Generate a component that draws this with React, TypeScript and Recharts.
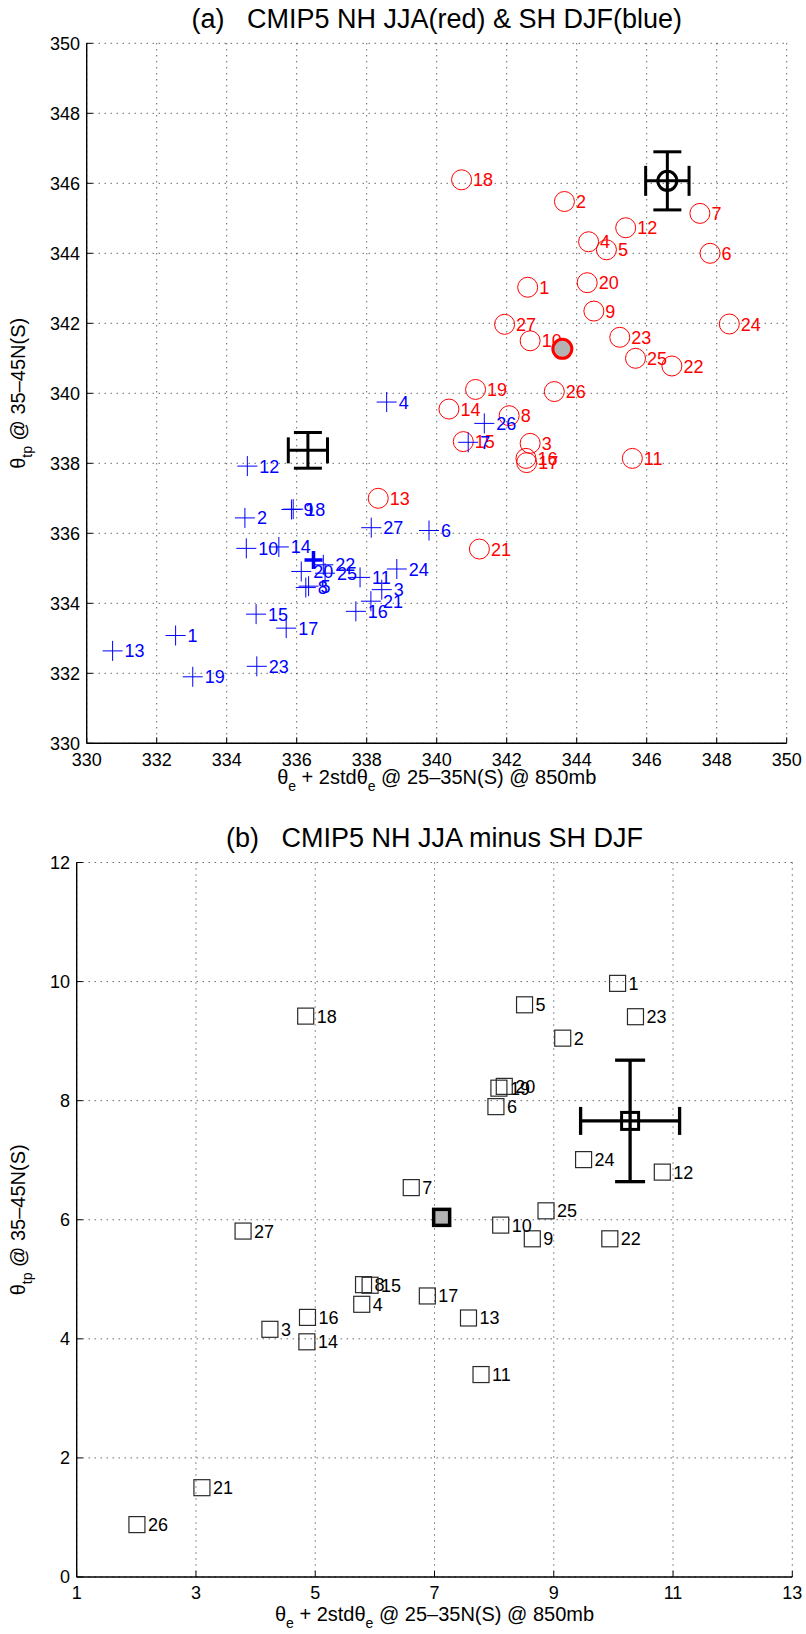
import React from 'react';
import { ScatterChart, Scatter, XAxis, YAxis, CartesianGrid, ErrorBar } from 'recharts';

const FONT = '"Liberation Sans", Arial, Helvetica, sans-serif';

// ---- data -----------------------------------------------------------
const modelIds = [1, 2, 3, 4, 5, 6, 7, 8, 9, 10, 11, 12, 13, 14, 15, 16, 17, 18, 19, 20, 21, 22, 23, 24, 25, 26, 27];

// (a) NH JJA (red circles)
const nhX = [342.6, 343.65, 342.67, 344.34, 344.85, 347.81, 347.52, 342.07, 344.49, 342.67, 345.59, 345.4, 338.33, 340.35, 340.76, 342.55, 342.57, 340.71, 341.11, 344.3, 341.22, 346.72, 345.23, 348.36, 345.68, 343.36, 341.94];
const nhY = [343.03, 345.48, 338.57, 344.33, 344.1, 344.0, 345.14, 339.36, 342.35, 341.5, 338.14, 344.73, 337.0, 339.55, 338.62, 338.14, 338.02, 346.1, 340.11, 343.16, 335.55, 340.78, 341.6, 341.98, 341.0, 340.05, 341.97];
const nhMean = [343.59, 341.27];
const nhObs = [346.59, 346.07];
const nhObsErr = [0.62, 0.83];

// (a) SH DJF (blue pluses)
const shX = [332.54, 334.52, 338.43, 338.57, 336.34, 339.78, 340.9, 336.26, 335.85, 334.56, 337.81, 334.59, 330.74, 335.49, 334.84, 337.69, 335.7, 335.9, 333.03, 336.13, 338.12, 336.76, 334.86, 338.86, 336.81, 341.36, 338.13];
const shY = [333.08, 336.44, 334.39, 339.75, 334.49, 336.08, 338.6, 334.45, 336.68, 335.57, 334.74, 337.92, 332.64, 335.61, 333.69, 333.77, 333.29, 336.69, 331.9, 334.91, 334.06, 335.1, 332.2, 334.98, 334.86, 339.14, 336.16];
const shMean = [336.48, 335.24];
const shObs = [336.32, 338.37];
const shObsErr = [0.56, 0.51];

// (b) NH JJA minus SH DJF (squares)
const dX = [10.07, 9.15, 4.24, 5.78, 8.51, 8.03, 6.61, 5.81, 8.64, 8.11, 7.78, 10.82, 7.57, 4.86, 5.92, 4.87, 6.88, 4.84, 8.08, 8.17, 3.1, 9.94, 10.37, 9.5, 8.87, 2.01, 3.79];
const dY = [9.97, 9.05, 4.16, 4.58, 9.61, 7.9, 6.54, 4.91, 5.68, 5.91, 3.4, 6.8, 4.35, 3.95, 4.9, 4.36, 4.72, 9.42, 8.21, 8.24, 1.5, 5.68, 9.41, 7.01, 6.15, 0.88, 5.81];
const dMean = [7.12, 6.04];
const dObs = [10.28, 7.66];
const dObsErr = [0.83, 1.02];

const ticksA = [330, 332, 334, 336, 338, 340, 342, 344, 346, 348, 350];
const ticksBX = [1, 3, 5, 7, 9, 11, 13];
const ticksBY = [0, 2, 4, 6, 8, 10, 12];

const titleA = '(a)\u00A0\u00A0\u00A0CMIP5 NH JJA(red) & SH DJF(blue)';
const titleB = '(b)\u00A0\u00A0\u00A0CMIP5 NH JJA minus SH DJF';

// ---- built tables -----------------------------------------------------
const toPoints = (xs: number[], ys: number[]) => xs.map((x, i) => ({ x, y: ys[i], id: modelIds[i] }));
const nhPts = toPoints(nhX, nhY);
const shPts = toPoints(shX, shY);
const dPts = toPoints(dX, dY);
const single = (p: number[], e?: number[]) => [{ x: p[0], y: p[1], ex: e ? e[0] : 0, ey: e ? e[1] : 0 }];

// ---- shapes -----------------------------------------------------------
const LABEL_FS = 18;

const lbl = (cx: number, cy: number, id: any, color: string, dx: number) => (
  <text x={cx + dx} y={cy + 6.5} fill={color} fontSize={LABEL_FS} fontFamily={FONT}>
    {id}
  </text>
);

const RedCircle = (p: any) => (
  <g>
    <circle cx={p.cx} cy={p.cy} r={10} fill="none" stroke="#ff0000" strokeWidth={1} />
    {lbl(p.cx, p.cy, p.payload.id, '#ff0000', 11.5)}
  </g>
);

const BluePlus = (p: any) => (
  <g>
    <line x1={p.cx - 10} x2={p.cx + 10} y1={p.cy} y2={p.cy} stroke="#0000ff" strokeWidth={1} />
    <line x1={p.cx} x2={p.cx} y1={p.cy - 10} y2={p.cy + 10} stroke="#0000ff" strokeWidth={1} />
    {lbl(p.cx, p.cy, p.payload.id, '#0000ff', 12)}
  </g>
);

const BlackSquare = (p: any) => (
  <g>
    <rect x={p.cx - 8} y={p.cy - 8} width={16} height={16} fill="none" stroke="#2a2a2a" strokeWidth={1.2} />
    {lbl(p.cx, p.cy, p.payload.id, '#000', 11)}
  </g>
);

const MeanCircle = (p: any) => (
  <circle cx={p.cx} cy={p.cy} r={9.5} fill="#b3b3b3" stroke="#ff0000" strokeWidth={3} />
);

const MeanPlus = (p: any) => (
  <g>
    <line x1={p.cx - 9} x2={p.cx + 9} y1={p.cy} y2={p.cy} stroke="#0000ff" strokeWidth={3.5} />
    <line x1={p.cx} x2={p.cx} y1={p.cy - 9} y2={p.cy + 9} stroke="#0000ff" strokeWidth={3.5} />
  </g>
);

const MeanSquare = (p: any) => (
  <rect x={p.cx - 8} y={p.cy - 8} width={16} height={16} fill="#b3b3b3" stroke="#000" strokeWidth={3.5} />
);

const ObsCircle = (p: any) => (
  <circle cx={p.cx} cy={p.cy} r={9.5} fill="none" stroke="#000" strokeWidth={3} />
);

const ObsNone = () => <g />;

const ObsSquare = (p: any) => (
  <rect x={p.cx - 8.5} y={p.cy - 8.5} width={17} height={17} fill="none" stroke="#000" strokeWidth={3} />
);

// ---- text overlay (titles, axis labels) -------------------------------
const AX_FS = 20;
const SUB_FS = 14;

const XTitle = ({ cx, base }: { cx: number; base: number }) => (
  <text x={cx} y={base} textAnchor="middle" fontSize={AX_FS} fontFamily={FONT} fill="#000">
    θ<tspan fontSize={SUB_FS} dy={7}>e</tspan>
    <tspan dy={-7}>{'\u00A0+ 2stdθ'}</tspan>
    <tspan fontSize={SUB_FS} dy={7}>e</tspan>
    <tspan dy={-7}>{'\u00A0@ 25–35N(S) @ 850mb'}</tspan>
  </text>
);

const YTitle = ({ bx, cy }: { bx: number; cy: number }) => (
  <text
    x={bx}
    y={cy}
    transform={`rotate(-90, ${bx}, ${cy})`}
    textAnchor="middle"
    fontSize={AX_FS}
    fontFamily={FONT}
    fill="#000"
  >
    θ<tspan fontSize={SUB_FS} dy={7}>tp</tspan>
    <tspan dy={-7}>{'\u00A0@ 35–45N(S)'}</tspan>
  </text>
);

const PanelTitle = ({ cx, base, text }: { cx: number; base: number; text: string }) => (
  <text x={cx} y={base} textAnchor="middle" fontSize={27} fontFamily={FONT} fill="#000">
    {text}
  </text>
);

const AXL = { stroke: '#000', strokeWidth: 1.4 };
const TKL = { stroke: '#000', strokeWidth: 1 };
const TICK = { fontSize: 18, fill: '#000', fontFamily: FONT };
const blank = () => '';

function Axes({ domX, domY, tX, tY }: any) {
  return null;
}

function PanelA() {
  const W = 806;
  const H = 810;
  return (
    <ScatterChart
      width={W}
      height={H}
      margin={{ top: 43.3, right: 19.3, bottom: H - 743.3 - 40, left: 86.7 - 60 }}
    >
      <CartesianGrid xAxisId="b" yAxisId="l" stroke="#222" strokeDasharray="1 5" strokeWidth={1} />
      <XAxis
        xAxisId="b"
        type="number"
        dataKey="x"
        domain={[330, 350]}
        ticks={ticksA}
        interval={0}
        allowDataOverflow
        orientation="bottom"
        height={40}
        tickSize={-6}
        tickMargin={15.5}
        axisLine={AXL}
        tickLine={TKL}
        tick={TICK}
      />
      <XAxis
        xAxisId="t"
        type="number"
        dataKey="x"
        domain={[330, 350]}
        ticks={ticksA}
        interval={0}
        allowDataOverflow
        orientation="top"
        height={0}
        tickSize={-6}
        axisLine={AXL}
        tickLine={TKL}
        tickFormatter={blank}
      />
      <YAxis
        yAxisId="l"
        type="number"
        dataKey="y"
        domain={[330, 350]}
        ticks={ticksA}
        interval={0}
        allowDataOverflow
        orientation="left"
        width={60}
        tickSize={-6}
        tickMargin={12.7}
        axisLine={AXL}
        tickLine={TKL}
        tick={TICK}
      />
      <YAxis
        yAxisId="r"
        type="number"
        dataKey="y"
        domain={[330, 350]}
        ticks={ticksA}
        interval={0}
        allowDataOverflow
        orientation="right"
        width={0}
        tickSize={-6}
        axisLine={AXL}
        tickLine={TKL}
        tickFormatter={blank}
      />
      <Scatter xAxisId="b" yAxisId="l" data={nhPts} shape={RedCircle} isAnimationActive={false} />
      <Scatter xAxisId="b" yAxisId="l" data={single(nhMean)} shape={MeanCircle} isAnimationActive={false} />
      <Scatter xAxisId="b" yAxisId="l" data={shPts} shape={BluePlus} isAnimationActive={false} />
      <Scatter xAxisId="b" yAxisId="l" data={single(shMean)} shape={MeanPlus} isAnimationActive={false} />
      <Scatter xAxisId="b" yAxisId="l" data={single(nhObs, nhObsErr)} shape={ObsCircle} isAnimationActive={false}>
        <ErrorBar dataKey="ex" direction="x" width={15} strokeWidth={3} stroke="#000" />
        <ErrorBar dataKey="ey" direction="y" width={14} strokeWidth={3} stroke="#000" />
      </Scatter>
      <Scatter xAxisId="b" yAxisId="l" data={single(shObs, shObsErr)} shape={ObsNone} isAnimationActive={false}>
        <ErrorBar dataKey="ex" direction="x" width={13} strokeWidth={3} stroke="#000" />
        <ErrorBar dataKey="ey" direction="y" width={14} strokeWidth={3} stroke="#000" />
      </Scatter>
    </ScatterChart>
  );
}

function PanelB() {
  const W = 806;
  const H = 824;
  const top = 862.5 - 810;
  const bottomPlot = 1577 - 810;
  return (
    <ScatterChart
      width={W}
      height={H}
      margin={{ top, right: 806 - 792.3, bottom: H - bottomPlot - 40, left: 76.7 - 60 }}
    >
      <CartesianGrid xAxisId="b" yAxisId="l" stroke="#222" strokeDasharray="1 5" strokeWidth={1} />
      <XAxis
        xAxisId="b"
        type="number"
        dataKey="x"
        domain={[1, 13]}
        ticks={ticksBX}
        interval={0}
        allowDataOverflow
        orientation="bottom"
        height={40}
        tickSize={-6}
        tickMargin={15.5}
        axisLine={AXL}
        tickLine={TKL}
        tick={TICK}
      />
      <XAxis
        xAxisId="t"
        type="number"
        dataKey="x"
        domain={[1, 13]}
        ticks={ticksBX}
        interval={0}
        allowDataOverflow
        orientation="top"
        height={0}
        tickSize={-6}
        axisLine={AXL}
        tickLine={TKL}
        tickFormatter={blank}
      />
      <YAxis
        yAxisId="l"
        type="number"
        dataKey="y"
        domain={[0, 12]}
        ticks={ticksBY}
        interval={0}
        allowDataOverflow
        orientation="left"
        width={60}
        tickSize={-6}
        tickMargin={12.7}
        axisLine={AXL}
        tickLine={TKL}
        tick={TICK}
      />
      <YAxis
        yAxisId="r"
        type="number"
        dataKey="y"
        domain={[0, 12]}
        ticks={ticksBY}
        interval={0}
        allowDataOverflow
        orientation="right"
        width={0}
        tickSize={-6}
        axisLine={AXL}
        tickLine={TKL}
        tickFormatter={blank}
      />
      <Scatter xAxisId="b" yAxisId="l" data={dPts} shape={BlackSquare} isAnimationActive={false} />
      <Scatter xAxisId="b" yAxisId="l" data={single(dMean)} shape={MeanSquare} isAnimationActive={false} />
      <Scatter xAxisId="b" yAxisId="l" data={single(dObs, dObsErr)} shape={ObsSquare} isAnimationActive={false}>
        <ErrorBar dataKey="ex" direction="x" width={14} strokeWidth={3.3} stroke="#000" />
        <ErrorBar dataKey="ey" direction="y" width={15} strokeWidth={3.3} stroke="#000" />
      </Scatter>
    </ScatterChart>
  );
}

export default function App() {
  return (
    <div
      style={{
        position: 'absolute',
        left: 0,
        top: 0,
        width: 806,
        height: 1634,
        background: '#fff',
        fontFamily: FONT,
      }}
    >
      <div style={{ position: 'absolute', left: 0, top: 0 }}>
        <PanelA />
      </div>
      <div style={{ position: 'absolute', left: 0, top: 810 }}>
        <PanelB />
      </div>
      <svg
        width={806}
        height={1634}
        style={{ position: 'absolute', left: 0, top: 0, pointerEvents: 'none' }}
      >
        <PanelTitle cx={436.7} base={28} text={titleA} />
        <XTitle cx={436.7} base={784} />
        <YTitle bx={25.5} cy={393.3} />
        <PanelTitle cx={434.5} base={847} text={titleB} />
        <XTitle cx={434.5} base={1621} />
        <YTitle bx={25.5} cy={1219.8} />
      </svg>
    </div>
  );
}
